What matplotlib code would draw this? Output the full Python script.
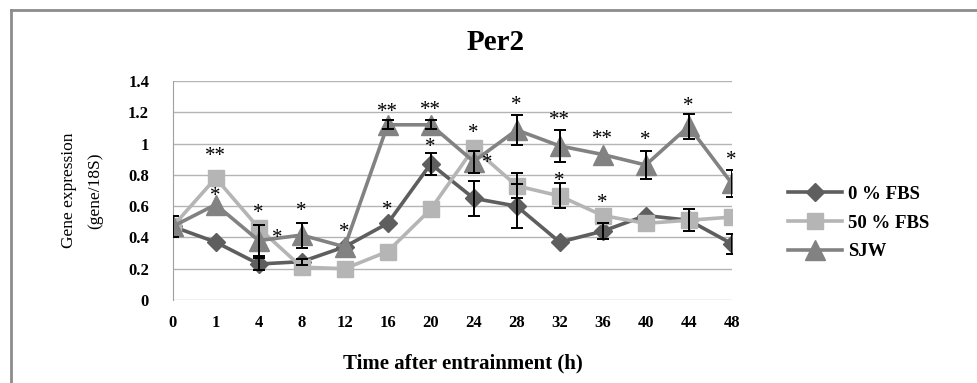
import numpy as np
import matplotlib
matplotlib.use('Agg')
import matplotlib.pyplot as plt
from matplotlib.lines import Line2D

plt.rcParams['font.family'] = ['Liberation Serif', 'DejaVu Serif']

times = ['0', '1', '4', '8', '12', '16', '20', '24', '28', '32', '36', '40', '44', '48']

fbs0 = [0.47, 0.37, 0.23, 0.245, 0.34, 0.49, 0.87, 0.65, 0.60, 0.37, 0.44, 0.54, 0.51, 0.36]
fbs0_err = [0.07, 0, 0.04, 0.02, 0, 0, 0.07, 0.11, 0.14, 0, 0.05, 0, 0.07, 0.065]

fbs50 = [0.47, 0.78, 0.46, 0.21, 0.20, 0.31, 0.58, 0.97, 0.73, 0.665, 0.54, 0.49, 0.51, 0.53]
fbs50_err = [0, 0, 0, 0, 0, 0, 0, 0, 0.08, 0.08, 0, 0, 0, 0]

sjw = [0.47, 0.61, 0.38, 0.415, 0.34, 1.12, 1.12, 0.885, 1.087, 0.985, 0.93, 0.863, 1.11, 0.746]
sjw_err = [0, 0, 0.1, 0.08, 0, 0.03, 0.03, 0.07, 0.095, 0.1, 0, 0.09, 0.08, 0.085]

# significance marks: (time index, label, height)
stars = [(1, '**', 0.95), (1, '*', 0.70), (2, '*', 0.59), (2, '*', 0.43),
         (3, '*', 0.60), (4, '*', 0.47), (5, '**', 1.235), (5, '*', 0.61),
         (6, '**', 1.25), (6, '*', 1.01), (7, '*', 1.10), (7, '*', 0.91),
         (8, '*', 1.28), (9, '**', 1.18), (9, '*', 0.79), (10, '**', 1.06),
         (10, '*', 0.65), (11, '*', 1.055), (12, '*', 1.27), (13, '*', 0.93)]
star_shift = {(2, 0.43): 13, (7, 0.91): 10}

fig = plt.figure(figsize=(9.78, 3.83), dpi=100)
ax = fig.add_axes([172.7 / 978, 1 - 300 / 383, (731.7 - 172.7) / 978, 219 / 383])

x = np.arange(len(times))
series = [
    ('0 % FBS', fbs0, fbs0_err, 'D', 9, '#5e5e5e'),
    ('50 % FBS', fbs50, fbs50_err, 's', 12, '#b5b5b5'),
    ('SJW', sjw, sjw_err, '^', 14, '#828282'),
]
for name, vals, err, mk, ms, col in series:
    ax.plot(x, vals, color=col, lw=2.6, marker=mk, markersize=ms,
            markeredgecolor=col, label=name, zorder=2)
for name, vals, err, mk, ms, col in series:
    vals = np.array(vals)
    err = np.array(err)
    m = err > 0
    ax.errorbar(x[m], vals[m], yerr=err[m], fmt='none', ecolor='black',
                elinewidth=1.4, capsize=4, capthick=1.4, zorder=3)

for i, lab, y in stars:
    dx = star_shift.get((i, y), 0)
    ax.annotate(lab, (i, y), xytext=(dx, -4), textcoords='offset points',
                ha='center', va='center', fontsize=15)

ax.set_xlim(0, 13)
ax.set_ylim(0, 1.4)
ax.set_xticks(x)
ax.set_xticklabels(times)
ax.set_yticks(np.arange(0, 1.41, 0.2))
ax.set_yticklabels(['0', '0.2', '0.4', '0.6', '0.8', '1', '1.2', '1.4'])
ax.tick_params(length=0, labelsize=12)
ax.tick_params(axis='y', pad=17)
ax.tick_params(axis='x', pad=11)
for lab in ax.get_xticklabels() + ax.get_yticklabels():
    lab.set_fontweight('bold')
ax.grid(axis='y', color='#b4b4b4', lw=1)
ax.set_axisbelow(True)
for s in ['top', 'right', 'bottom']:
    ax.spines[s].set_visible(False)
ax.spines['left'].set_color('#a0a0a0')

ax.set_xlabel('Time after entrainment (h)', fontsize=15, fontweight='bold')
ax.xaxis.set_label_coords(0.519, -0.245)
ax.set_ylabel('Gene expression\n(gene/18S)', fontsize=12.5, linespacing=1.8)
ax.yaxis.set_label_coords(-0.125, 0.5)
fig.text(496 / 978, 1 - 42 / 383, 'Per2', fontsize=21, fontweight='bold', ha='center', va='center')

fig.legend(loc='center left', bbox_to_anchor=(788 / 978, 1 - 223 / 383), frameon=False,
           prop={'weight': 'bold', 'size': 13.5}, handlelength=2.9, handletextpad=0.3,
           labelspacing=0.62, borderpad=0, borderaxespad=0)

# outer border of the chart area
fig.add_artist(Line2D([11.5 / 978, 11.5 / 978], [1 - 9.5 / 383, 0], color='#8c8c8c', lw=2))
fig.add_artist(Line2D([11.5 / 978, 1], [1 - 9.5 / 383, 1 - 9.5 / 383], color='#8c8c8c', lw=2))

fig.savefig('out.png', dpi=100)
